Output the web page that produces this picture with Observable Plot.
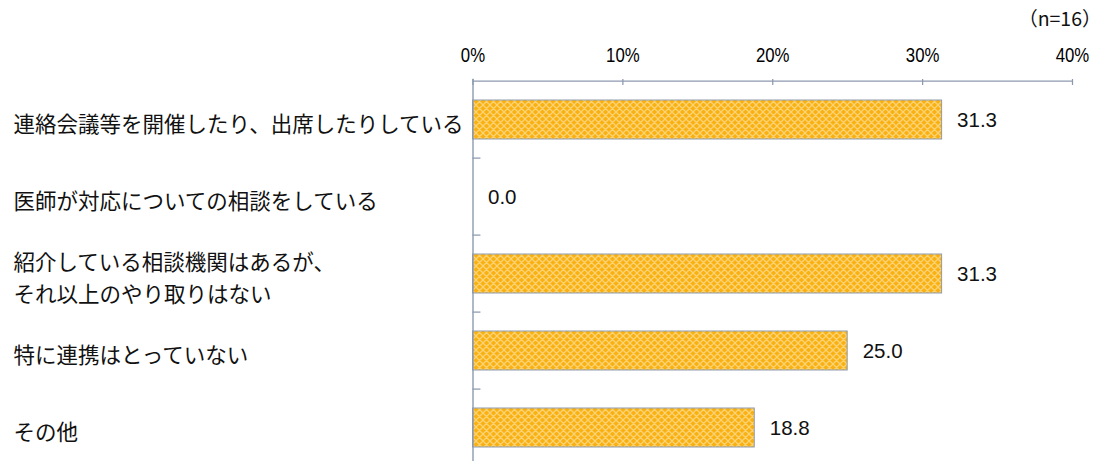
<!DOCTYPE html>
<html>
<head>
<meta charset="utf-8">
<script src="https://cdn.jsdelivr.net/npm/d3@7"></script>
<script src="https://cdn.jsdelivr.net/npm/@observablehq/plot@0.6"></script>
<style>
  html, body { margin: 0; padding: 0; background: #fff; overflow: hidden; }
  svg { display: block; }
</style>
</head>
<body>
<div id="chart"></div>
<script>
const categories = [
  "連絡会議等を開催したり、出席したりしている",
  "医師が対応についての相談をしている",
  "紹介している相談機関はあるが、\nそれ以上のやり取りはない",
  "特に連携はとっていない",
  "その他"
];
const values = [31.3, 0.0, 31.3, 25.0, 18.8];
const xTicks = [0, 10, 20, 30, 40];
const tickLabels = ["0%", "10%", "20%", "30%", "40%"];
const note = "（n=16）";

const data = categories.map((c, i) => ({category: c, value: values[i]}));

const W = 1102, H = 468, mTop = 79, mBottom = 0, mLeft = 472.5, mRight = 30;
const plotH = H - mTop - mBottom;
const step = plotH / categories.length;
const axisColor = "#8c9ab0";
const cjk = "'Noto Sans CJK JP', 'Noto Sans', sans-serif";
const latin = "'Liberation Sans', Arial, sans-serif";

const chart = Plot.plot({
  width: W,
  height: H,
  marginTop: mTop,
  marginBottom: mBottom,
  marginLeft: mLeft,
  marginRight: mRight,
  x: {domain: [0, 40], axis: null},
  y: {domain: categories, paddingInner: 0.5, paddingOuter: 0.25, axis: null},
  marks: [
    Plot.barX(data, {
      x: "value", y: "category",
      fill: "url(#hatch)", stroke: "#8e9bae", strokeWidth: 1
    }),
    // top axis line (at the upper boundary of the first band)
    Plot.ruleY([categories[0]], {
      y: d => d, x1: 0, x2: 40, dy: -step / 2,
      stroke: axisColor, strokeWidth: 1.4
    }),
    Plot.frame({anchor: "left", stroke: axisColor, strokeWidth: 1.4}),
    Plot.ruleX(xTicks, {x: d => d, insetBottom: plotH - 6, stroke: axisColor, strokeWidth: 1.25}),
    Plot.ruleY(categories.slice(1), {
      y: d => d, x1: 0, x2: 0.53, dy: -step / 2,
      stroke: axisColor, strokeWidth: 1.25
    }),
    Plot.text(xTicks, {
      x: d => d, text: (d, i) => tickLabels[i],
      frameAnchor: "top", dy: -24, lineAnchor: "middle",
      fontSize: 21, fontFamily: latin, fill: "#000",
      className: "xticklabel"
    }),
    Plot.text(data, {
      x: "value", y: "category", text: d => d.value.toFixed(1),
      dx: 15, textAnchor: "start", lineAnchor: "middle",
      fontSize: 20.5, fontFamily: latin, fill: "#111"
    }),
    Plot.text(data, {
      y: "category", text: "category",
      frameAnchor: "left", dx: 13 - mLeft, dy: 2, textAnchor: "start",
      lineAnchor: "middle", lineHeight: 1.5,
      fontSize: 21.5, fontFamily: cjk, fill: "#111"
    }),
    Plot.text([note], {
      text: d => d, frameAnchor: "top-right", dx: mRight - 1, dy: -60,
      textAnchor: "end", lineAnchor: "middle",
      fontSize: 19.5, fontFamily: cjk, fill: "#111"
    })
  ]
});

const svg = d3.select(chart);
// condensed look for the percent tick labels
svg.selectAll(".xticklabel text").each(function() {
  const t = d3.select(this);
  const tr = t.attr("transform") || "";
  t.attr("transform", tr + " scale(0.8,1)");
});

const defs = svg.insert("defs", ":first-child");
const pat = defs.append("pattern")
  .attr("id", "hatch")
  .attr("patternUnits", "userSpaceOnUse")
  .attr("width", 7).attr("height", 7);
pat.append("rect").attr("width", 7).attr("height", 7).attr("fill", "#f9b112");
pat.append("path")
  .attr("d", "M0,0 L7,7 M7,0 L0,7 M-1,6 L1,8 M6,-1 L8,1 M-1,1 L1,-1 M6,8 L8,6")
  .attr("stroke", "#fcd272").attr("stroke-width", 1.3).attr("fill", "none");

document.getElementById("chart").appendChild(chart);
</script>
</body>
</html>
